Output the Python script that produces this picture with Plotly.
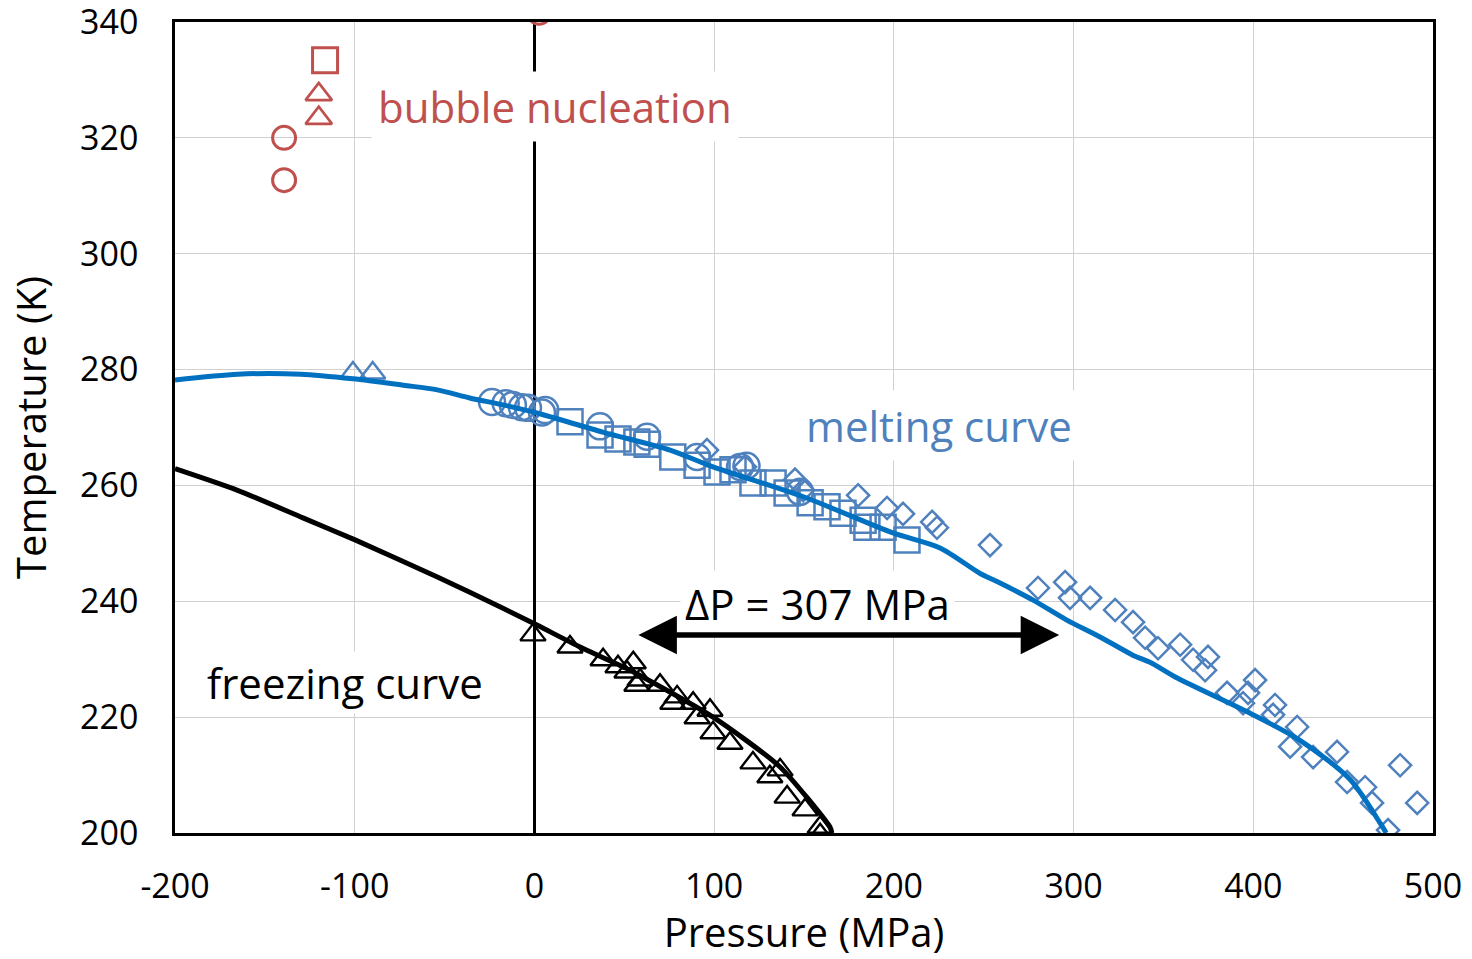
import plotly.graph_objects as go

# ---- axis ticks ----
x_ticks = [-200, -100, 0, 100, 200, 300, 400, 500]
x_tick_text = ["-200", "-100", "0", "100", "200", "300", "400", "500"]
y_ticks = [200, 220, 240, 260, 280, 300, 320, 340]

# ---- melting curve (fit line) ----
melt_line_p = [-200, -165, -130, -101, -73, -54, -36, -17.5, 1.4, 38, 75.5, 99.4, 150,
               199.5, 225.7, 248, 257.4, 277.5, 296, 315, 333, 343, 358, 398, 426, 454, 470.6, 474]
melt_line_t = [278.2, 279.2, 279.2, 278.4, 277.3, 276.5, 275.1, 273.9, 272.5, 269.2, 266.1, 263.2, 258.0,
               251.8, 249.2, 244.8, 243.4, 240.2, 236.8, 233.8, 230.7, 229.4, 226.7, 220.7, 216.0, 209.2, 201.7, 200.0]

# ---- freezing curve (fit line) ----
freeze_line_p = [-200, -165.5, -128.8, -99.8, -54, -17.5, 1.4, 25.4, 53.2, 99.4, 136.7, 164.5, 165.5]
freeze_line_t = [262.9, 259.2, 254.4, 250.6, 244.2, 238.8, 235.9, 232.1, 228.1, 220.0, 211.4, 201.0, 200.0]

# ---- melting data sets ----
melt_tri_p = [-101, -90]
melt_tri_t = [279.4, 279.4]

melt_circ_p = [-23.6, -16, -12, -7, -3.6, 4.2, 6, 36.5, 62.7, 90.5, 114.4, 118, 147.8]
melt_circ_t = [274.4, 274.2, 273.9, 273.5, 273.4, 272.6, 273.0, 270.2, 268.4, 264.9, 263.2, 263.4, 258.9]

melt_sq_p = [19.8, 36.5, 46.5, 57, 62.7, 77, 90.5, 101.6, 110.5, 121.6, 132.8, 140.6,
             153.4, 162.8, 171.7, 182.9, 185, 194, 207.3]
melt_sq_t = [271.0, 268.7, 268.0, 267.5, 267.1, 264.9, 263.5, 262.3, 262.7, 260.4, 260.4, 258.7,
             257.0, 256.3, 255.2, 254.0, 252.8, 252.8, 250.6]

melt_dia_p = [96.0, 117.2, 145.0, 149.5, 180.1, 196.2, 205.1, 221.3, 224.0, 253.5, 280.2, 295.3,
              298.0, 309.2, 323.1, 333.1, 339.8, 347.0, 359.3, 366.5, 374.8, 373.2, 385.4, 394.3,
              397.1, 401.0, 412.1, 411.0, 424.4, 420.5, 433.3, 446.6, 452.2, 462.2, 466.1, 475.0,
              481.7, 491.2]
melt_dia_t = [266.1, 263.2, 261.0, 259.2, 258.3, 256.1, 255.1, 253.7, 252.7, 249.7, 242.3, 243.3,
              240.6, 240.6, 238.5, 236.4, 233.7, 231.9, 232.5, 229.9, 230.4, 228.1, 224.2, 222.4,
              224.2, 226.4, 222.1, 220.4, 218.3, 214.9, 213.1, 214.0, 208.8, 207.9, 205.2, 200.5,
              211.7, 205.2]

# ---- freezing data ----
freeze_tri_p = [-0.8, 19.8, 38.2, 46.5, 51.5, 55, 58.8, 57, 69.9, 79.4, 77, 88.3, 90.5, 97.7,
                99.4, 108.8, 121.6, 131, 136.7, 140.6, 150.6, 159, 159]
freeze_tri_t = [234.2, 232.1, 229.9, 228.7, 227.8, 229.4, 226.4, 225.5, 225.5, 223.5, 222.4, 222.4,
                219.9, 221.2, 217.3, 215.5, 212.1, 209.7, 210.9, 206.2, 204.0, 201.0, 199.7]

# ---- bubble nucleation ----
bub_sq_p = [-116.5]
bub_sq_t = [333.4]
bub_tri_p = [-120, -120]
bub_tri_t = [327.5, 323.4]
bub_circ_p = [-139.3, -139.3, 2.6]
bub_circ_t = [320.0, 312.7, 341.6]

# ---- pressure-gap arrow ----
arrow_p = [57, 292]
arrow_t = 234.2
delta_p_label = "ΔP = 307 MPa"

BLUE_LINE = "#0070C0"
BLUE_MK = "#4F81BD"
RED = "#C0504D"

fig = go.Figure()


def markers(px, py, symbol, size, color, lw=2.5):
    fig.add_trace(go.Scatter(
        x=px, y=py, mode="markers", cliponaxis=True,
        marker=dict(symbol=symbol, size=size, color=color,
                    line=dict(color=color, width=lw)),
        hoverinfo="skip"))


markers(melt_dia_p, melt_dia_t, "diamond-open", 17, BLUE_MK)
markers(melt_sq_p, melt_sq_t, "square-open", 25, BLUE_MK)
markers(melt_circ_p, melt_circ_t, "circle-open", 26, BLUE_MK)
markers(melt_tri_p, melt_tri_t, "triangle-up-open", 22, BLUE_MK)
markers(freeze_tri_p, freeze_tri_t, "triangle-up-open", 22, "black", 2.4)
markers(bub_sq_p, bub_sq_t, "square-open", 25, RED, 3)
markers(bub_tri_p, bub_tri_t, "triangle-up-open", 23, RED, 2.6)
markers(bub_circ_p, bub_circ_t, "circle-open", 23, RED, 3)

fig.add_trace(go.Scatter(x=melt_line_p, y=melt_line_t, mode="lines",
                         line=dict(color=BLUE_LINE, width=5, shape="spline", smoothing=0.8),
                         hoverinfo="skip"))
fig.add_trace(go.Scatter(x=freeze_line_p, y=freeze_line_t, mode="lines",
                         line=dict(color="black", width=5, shape="spline", smoothing=0.6),
                         hoverinfo="skip"))

TXT = 42
fig.add_annotation(x=11.5, y=325.5, text="bubble nucleation", showarrow=False,
                   font=dict(size=TXT, color=RED), bgcolor="white", borderpad=6)
fig.add_annotation(x=225.2, y=270.4, text="melting curve", showarrow=False,
                   font=dict(size=TXT, color=BLUE_MK), bgcolor="white", borderpad=6)
fig.add_annotation(x=157.3, y=239.7, text=delta_p_label, showarrow=False,
                   font=dict(size=TXT, color="black"), bgcolor="white", borderpad=4)
fig.add_annotation(x=-105.4, y=225.9, text="freezing curve", showarrow=False,
                   font=dict(size=TXT, color="black"), bgcolor="white", borderpad=2)

# double-headed arrow
fig.add_annotation(x=arrow_p[1], y=arrow_t, ax=arrow_p[0], ay=arrow_t,
                   xref="x", yref="y", axref="x", ayref="y", text="",
                   showarrow=True, arrowside="end+start", arrowhead=2, arrowsize=1.4,
                   arrowwidth=5.5, arrowcolor="black", standoff=0, startstandoff=0)

fig.update_layout(
    width=1472, height=959,
    margin=dict(l=175, r=39, t=22, b=126),
    plot_bgcolor="white", paper_bgcolor="white",
    showlegend=False,
    font=dict(family="Open Sans", color="black"),
)
fig.update_xaxes(
    range=[-200, 500], autorange=False, automargin=False,
    tickmode="array", tickvals=x_ticks, ticktext=x_tick_text,
    showgrid=True, gridcolor="#d0d0d0", gridwidth=1.3,
    showline=True, linecolor="black", linewidth=2.5, mirror=True,
    zeroline=True, zerolinecolor="black", zerolinewidth=2.5,
    ticks="", ticklabelstandoff=21, ticklabeloverflow="allow",
    tickfont=dict(size=34, color="black"),
    title=dict(text="Pressure (MPa)", font=dict(size=40, color="black"), standoff=16),
)
fig.update_yaxes(
    range=[200, 340], autorange=False, automargin=False,
    tickmode="array", tickvals=y_ticks, ticktext=[str(v) for v in y_ticks],
    showgrid=True, gridcolor="#d0d0d0", gridwidth=1.3,
    showline=True, linecolor="black", linewidth=2.5, mirror=True,
    zeroline=False,
    ticks="", ticklabelstandoff=27, ticklabeloverflow="allow",
    tickfont=dict(size=34, color="black"),
    title=dict(text="Temperature (K)", font=dict(size=40, color="black"), standoff=22),
)

fig.write_html("out.html")
